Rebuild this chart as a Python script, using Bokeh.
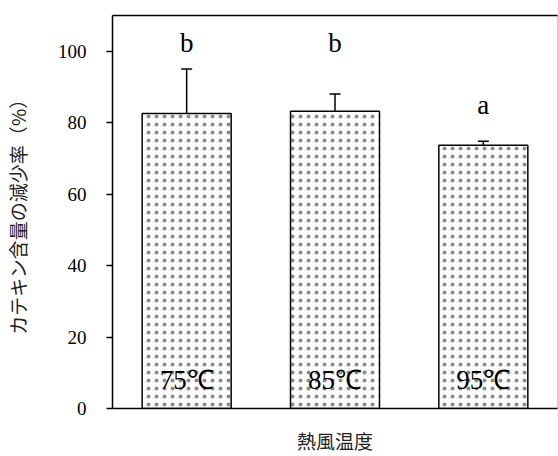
from bokeh.plotting import figure
from bokeh.models import (ColumnDataSource, Range1d, LinearAxis, FixedTicker,
                          Whisker, TeeHead)
from bokeh.core.properties import value
from bokeh.embed import file_html
from bokeh.resources import INLINE

# data
temps = ["75℃", "85℃", "95℃"]
reduction = [82.6, 83.2, 73.7]
error = [12.4, 4.8, 1.1]
letters = ["b", "b", "a"]
letter_y = [102.2, 102.2, 85.0]
y_ticks = [0, 20, 40, 60, 80, 100]

xpos = list(range(1, len(temps) + 1))
upper = [v + e for v, e in zip(reduction, error)]
src = ColumnDataSource(dict(x=xpos, label=temps, top=reduction, upper=upper,
                            letters=letters, ly=letter_y, base=[0] * len(temps)))

GLYPH_SERIF = "Liberation Serif"
AXIS_SERIF = "Times New Roman"
JP = "Noto Sans CJK JP"

p = figure(x_range=Range1d(0.5, len(temps) + 0.5), y_range=Range1d(0, 110),
           width=558, height=456, output_backend="svg", toolbar_location=None,
           min_border_left=109, min_border_right=1, min_border_top=15, min_border_bottom=44)
p.grid.visible = False
p.outline_line_color = "#c8c8c8"
p.background_fill_color = "white"

p.vbar(x="x", top="top", width=0.6, source=src, fill_color="white",
       line_color="black", line_width=1.5,
       hatch_pattern="dot", hatch_scale=8, hatch_weight=1, hatch_color="#8c8c8c")

w = Whisker(base="x", lower="top", upper="upper", source=src,
            line_color="black", line_width=1.5,
            upper_head=TeeHead(size=11, line_color="black", line_width=1.5),
            lower_head=None)
p.add_layout(w)

p.text(x="x", y="ly", text="letters", source=src, text_align="center",
       text_baseline="middle", text_font=value(GLYPH_SERIF), text_font_size="27px",
       text_color="black")
p.text(x="x", y="base", text="label", source=src, text_align="center",
       text_baseline="middle", y_offset=-29, text_font=value(GLYPH_SERIF),
       text_font_size="27px", text_color="black")

# y axis
ya = p.yaxis[0]
ya.ticker = FixedTicker(ticks=y_ticks)
ya.minor_tick_line_color = None
ya.major_tick_in = 0
ya.major_tick_out = 6
ya.major_tick_line_width = 1.5
ya.axis_line_width = 1.5
ya.major_label_text_font = AXIS_SERIF
ya.major_label_text_font_size = "19px"
ya.major_label_text_color = "black"
ya.major_label_standoff = 20
ya.axis_label = "カテキン含量の減少率（%）"
ya.axis_label_text_font = JP
ya.axis_label_text_font_size = "19px"
ya.axis_label_text_font_style = "normal"
ya.axis_label_text_color = "#222222"
ya.axis_label_standoff = 24

# x axis (no ticks; labels sit inside the bars)
xa = p.xaxis[0]
xa.ticker = FixedTicker(ticks=[])
xa.major_tick_out = 0
xa.major_tick_in = 0
xa.major_label_standoff = 0
xa.minor_tick_line_color = None
xa.axis_line_width = 1.5
xa.axis_label = "熱風温度"
xa.axis_label_text_font = JP
xa.axis_label_text_font_size = "19px"
xa.axis_label_text_font_style = "normal"
xa.axis_label_text_color = "#222222"
xa.axis_label_standoff = 18

# top frame line
top_ax = LinearAxis(ticker=FixedTicker(ticks=[]), major_tick_out=0, major_tick_in=0,
                    major_label_standoff=0, minor_tick_line_color=None,
                    axis_line_color="black", axis_line_width=1.5)
p.add_layout(top_ax, "above")

open("out.html", "w").write(file_html(p, INLINE))
